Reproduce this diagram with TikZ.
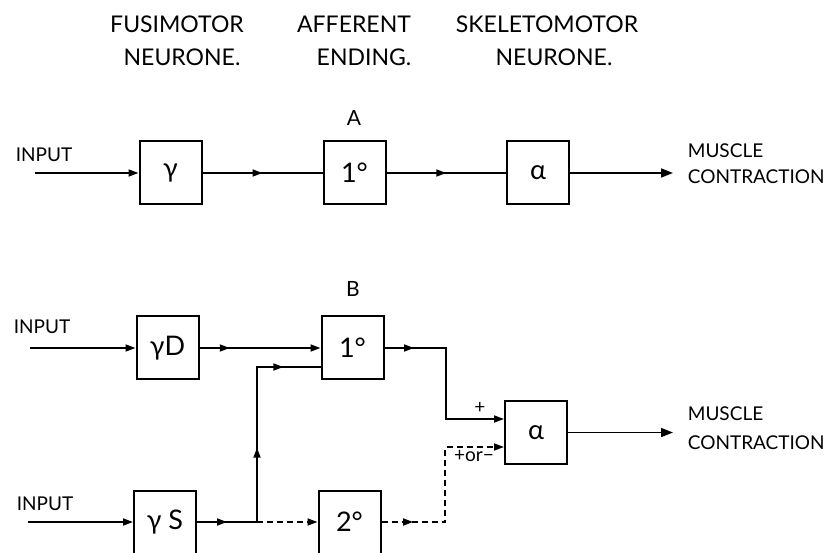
\documentclass[tikz,border=0pt]{standalone}
\usepackage{fontspec}
\setmainfont{Lato}
\usetikzlibrary{arrows.meta,decorations.markings}
\begin{document}
\begin{tikzpicture}[x=1pt,y=-1pt,
  line width=1.7pt,
  blk/.style={draw, line width=2pt, minimum width=62pt, minimum height=63pt, inner sep=0pt, font=\fontsize{27}{27}\selectfont},
  lbl/.style={font=\fontsize{19}{20}\selectfont, inner sep=0pt, anchor=west},
  hdr/.style={font=\fontsize{23}{24}\selectfont, inner sep=0pt},
  sml/.style={font=\fontsize{19}{19}\selectfont, inner sep=0pt},
  tip/.style={-{Triangle[length=10pt,width=7pt]}},
  bigtip/.style={-{Triangle[length=12pt,width=9pt]}},
  marks/.style={postaction={decorate, solid, decoration={markings, mark=at position #1 with {\arrow{Triangle[length=10pt,width=7pt]}}}}},
  dsh/.style={dash pattern=on 6pt off 4pt},
]
\useasboundingbox (0,0) rectangle (833,553);

% headers
\node[hdr] (h1a) at (177,24) {FUSIMOTOR};
\node[hdr] (h1b) at (182,57) {NEURONE.};
\node[hdr] (h2a) at (354,24) {AFFERENT};
\node[hdr] (h2b) at (364,57) {ENDING.};
\node[hdr] (h3a) at (547,24) {SKELETOMOTOR};
\node[hdr] (h3b) at (554,57) {NEURONE.};

% ---------- A ----------
\node[hdr, font=\fontsize{21}{21}\selectfont] (lA) at (354,118) {A};
\node[lbl] (inAt) at (15,155) {INPUT};
\coordinate (inA) at (35,173);
\node[blk] (gA) at (170.5,173) {γ};
\node[blk] (pA) at (354.5,173) {1°};
\node[blk] (aA) at (538,173) {α};
\coordinate (outA) at (673,173);
\node[lbl] (mA1) at (687,151) {MUSCLE};
\node[lbl] (mA2) at (687,177) {CONTRACTION};

\draw[tip] (inA) -- (gA.west);
\draw[marks=0.5] (gA.east) -- (pA.west);
\draw[marks=0.5] (pA.east) -- (aA.west);
\draw[bigtip] (aA.east) -- (outA);

% ---------- B ----------
\node[hdr, font=\fontsize{21}{21}\selectfont] (lB) at (353,289) {B};
\node[lbl] (inB1t) at (13,327) {INPUT};
\node[lbl] (inB2t) at (16,504) {INPUT};
\coordinate (inB1) at (30,348);
\coordinate (inB2) at (28,522);
\node[blk] (gD) at (167.5,348) {γD};
\node[blk] (pB) at (352.5,348) {1°};
\node[blk] (gS) at (165,522) {γ S};
\node[blk] (sB) at (349.5,522) {2°};
\node[blk] (aB) at (536,432.5) {α};
\coordinate (outB) at (673,432.5);
\node[lbl] (mB1) at (687,414) {MUSCLE};
\node[lbl] (mB2) at (687,443) {CONTRACTION};

\coordinate (j) at (257,522);
\coordinate (k) at (257,367);
\coordinate (n1) at (446,348);
\coordinate (n2) at (446,419);
\coordinate (m1) at (445,522);
\coordinate (m2) at (445,447);

\draw[tip] (inB1) -- (gD.west);
\draw[tip] (inB2) -- (gS.west);
\draw[tip, marks=0.25] (gD.east) -- (pB.west);
\draw[marks=0.5] (gS.east) -- (j);
\draw[marks=0.34, marks=0.83] (j) -- (k) -- (pB.west |- k);
\draw[tip, marks=0.155] (pB.east) -- (n1) -- (n2) -- (aB.west |- n2);
\draw[dsh, tip] (j) -- (sB.west);
\draw[dsh, tip, marks=0.16] (sB.east) -- (m1) -- (m2) -- (aB.west |- m2);
\draw[bigtip] (aB.east) -- (outB);

\node[sml] (plus) at (480,408) {+};
\node[sml] (pm) at (474,456) {+or−};
\end{tikzpicture}
\end{document}
